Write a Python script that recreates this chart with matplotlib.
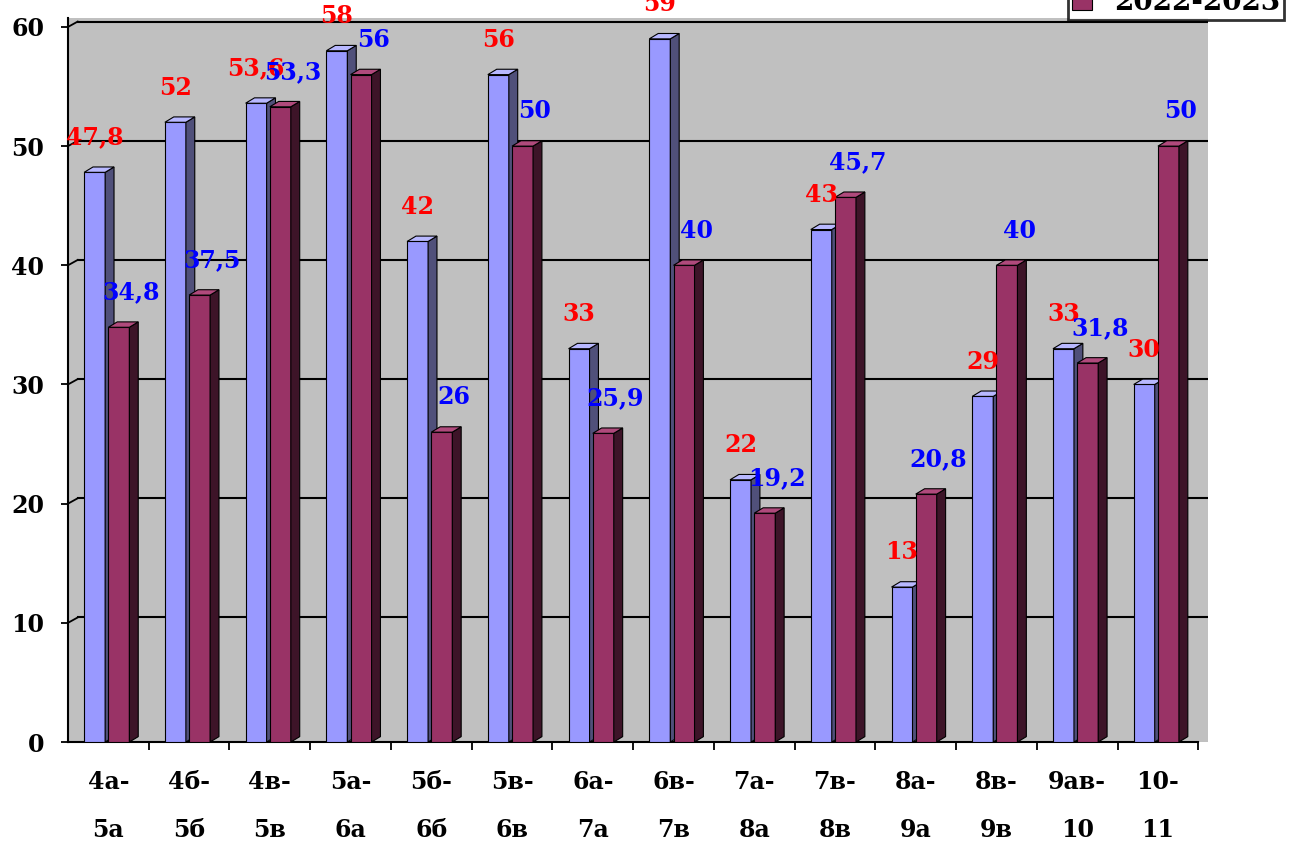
import matplotlib
matplotlib.use("Agg")
from matplotlib import pyplot as plt
from matplotlib.patches import Polygon
import numpy as np

# data
categories = ["4а-\n5а", "4б-\n5б", "4в-\n5в", "5а-\n6а", "5б-\n6б", "5в-\n6в", "6а-\n7а",
              "6в-\n7в", "7а-\n8а", "7в-\n8в", "8а-\n9а", "8в-\n9в", "9ав-\n10", "10-\n11"]
series_names = ["2021-2022", "2022-2023"]
values_1 = [47.8, 52, 53.6, 58, 42, 56, 33, 59, 22, 43, 13, 29, 33, 30]
values_2 = [34.8, 37.5, 53.3, 56, 26, 50, 25.9, 40, 19.2, 45.7, 20.8, 40, 31.8, 50]
y_ticks = [0, 10, 20, 30, 40, 50, 60]

font = "DejaVu Serif"

fig = plt.figure(figsize=(12.91, 8.41), dpi=100)
ax = fig.add_axes([68/1291, 1-742/841, (1208-68)/1291, (742-18)/841])
ax.set_facecolor("#c0c0c0")

x = np.arange(len(categories))
dx, dy = 0.11, 0.45   # 3d depth


def bar3d(xs, vals, left, width, front, side, top):
    bars = ax.bar(xs + left, vals, width, align="edge", color=front,
                  edgecolor="black", linewidth=0.8, zorder=3)
    for b in bars:
        x0 = b.get_x(); w = b.get_width(); h = b.get_height()
        ax.add_patch(Polygon([(x0+w, 0), (x0+w+dx, dy), (x0+w+dx, h+dy), (x0+w, h)],
                             closed=True, facecolor=side, edgecolor="black", lw=0.8, zorder=3))
        ax.add_patch(Polygon([(x0, h), (x0+dx, h+dy), (x0+w+dx, h+dy), (x0+w, h)],
                             closed=True, facecolor=top, edgecolor="black", lw=0.8, zorder=3))
    return bars


b1 = bar3d(x, values_1, -0.30, 0.26, "#9999ff", "#50507a", "#b8b8ff")
b2 = bar3d(x, values_2, 0.0, 0.26, "#993366", "#3d1428", "#b04a7c")

# gridlines on back wall
for t in y_ticks[1:]:
    ax.plot([-0.5, -0.38], [t, t+dy], color="black", lw=1.3, zorder=1)
    ax.plot([-0.38, 13.62], [t+dy, t+dy], color="black", lw=1.5, zorder=1)

ax.set_xlim(-0.5, 13.62)
ax.set_ylim(0, 60.75)

ax.set_yticks(y_ticks)
ax.set_yticklabels([str(t) for t in y_ticks], fontname=font, fontweight="bold", fontsize=17)
ax.tick_params(axis="y", length=5, width=1.3, pad=12)

ax.set_xticks(x)
ax.set_xticklabels(categories, fontname=font, fontweight="bold", fontsize=17, linespacing=2.3)
ax.set_xticks(np.arange(len(categories)) + 0.5, minor=True)
ax.tick_params(axis="x", which="major", length=0, pad=20)
ax.tick_params(axis="x", which="minor", length=6, width=1.3)

for s in ["top", "right"]:
    ax.spines[s].set_visible(False)
ax.spines["left"].set_linewidth(1.5)
ax.spines["bottom"].set_linewidth(1.5)
ax.spines["bottom"].set_bounds(-0.5, 13.5)

# data labels
for i in range(len(categories)):
    ax.annotate(str(values_1[i]).replace(".", ","), (x[i] - 0.17, values_1[i]),
                xytext=(0, 25), textcoords="offset points", ha="center", va="center",
                color="#ff0000", fontname=font, fontweight="bold", fontsize=17,
                zorder=5, annotation_clip=False)
    ax.annotate(str(values_2[i]).replace(".", ","), (x[i] + 0.28, values_2[i]),
                xytext=(0, 25), textcoords="offset points", ha="center", va="center",
                color="#0000ff", fontname=font, fontweight="bold", fontsize=17,
                zorder=5, annotation_clip=False)

leg = fig.legend([b1, b2], series_names, loc="lower left",
                 bbox_to_anchor=(1068/1291, 1-20/841), borderaxespad=0, frameon=True,
                 fancybox=False, prop={"family": font, "weight": "bold", "size": 20},
                 handlelength=0.7, handleheight=0.7, borderpad=0.15, labelspacing=0.2)
leg.get_frame().set_edgecolor("black")
leg.get_frame().set_linewidth(2)

fig.savefig("out.png", dpi=100)
